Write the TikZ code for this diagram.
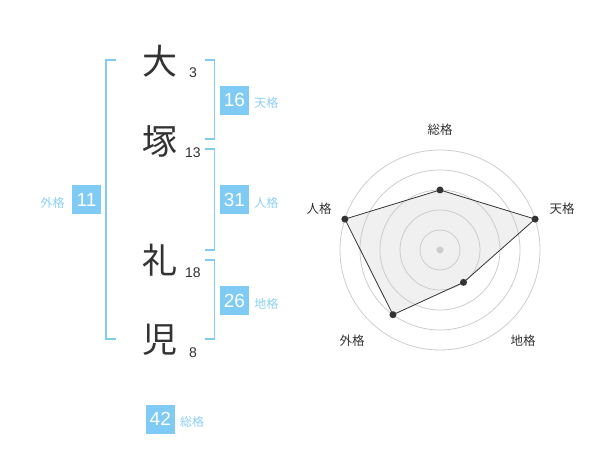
\documentclass[tikz,border=0pt]{standalone}
\usepackage{fontspec}
\setmainfont{Liberation Sans}
\newfontfamily\jp{Noto Sans CJK JP}
\usepackage{tikz}
\usepackage{xcolor}
\usetikzlibrary{calc,positioning}
\definecolor{kakublue}{HTML}{80CBF6}
\definecolor{nameblue}{HTML}{8CD0F4}
\definecolor{moji}{HTML}{333333}
\definecolor{ring}{HTML}{CCCCCC}

\begin{document}
\begin{tikzpicture}[x=1pt,y=-1pt]
        \tikzstyle{kanji}=[font=\jp\fontsize{35}{35}\selectfont, text=moji, inner sep=0pt]
        \tikzstyle{strokes}=[font=\fontsize{14}{14}\selectfont, text=moji, inner sep=0pt]
        \tikzstyle{kaku}=[fill=kakublue, text=white, font=\fontsize{19}{19}\selectfont, minimum size=29pt, inner sep=0pt]
        \tikzstyle{kakuname}=[font=\jp\fontsize{12}{12}\selectfont, text=nameblue, inner sep=0pt]
        \tikzstyle{bracket}=[draw=kakublue, line width=1.6pt]
        \tikzstyle{axisname}=[font=\jp\fontsize{12.5}{12.5}\selectfont, text=moji, inner sep=0pt]
        \tikzstyle{dot}=[circle, fill=moji, minimum size=7pt, inner sep=0pt]
        \useasboundingbox (0,0) rectangle (600,470);

        % name
        \node[kanji] (k1) at (160,61) {大};
        \node[kanji] (k2) at (160,141) {塚};
        \node[kanji] (k3) at (160,260) {礼};
        \node[kanji] (k4) at (160,340) {児};
        \node[strokes] (s1) at (193,73) {3};
        \node[strokes] (s2) at (193,153) {13};
        \node[strokes] (s3) at (193,273) {18};
        \node[strokes] (s4) at (193,353) {8};

        \draw[bracket] (115.7,60) -- (105.7,60) -- (105.7,339.3) -- (115.7,339.3);
        \draw[bracket] (205,60) -- (214.3,60) -- (214.3,139.3) -- (205,139.3);
        \draw[bracket] (205,149.3) -- (214.3,149.3) -- (214.3,250) -- (205,250);
        \draw[bracket] (205,260) -- (214.3,260) -- (214.3,339.3) -- (205,339.3);

        \node[kaku] (ten) at (234.5,100.3) {16};
        \node[kaku] (jin) at (234.5,200) {31};
        \node[kaku] (chi) at (234.5,300.7) {26};
        \node[kaku] (gai) at (86.5,200) {11};
        \node[kaku] (sou) at (160.3,419.3) {42};
        \node[kakuname, right=5pt of ten, yshift=-3pt] (tenname) {天格};
        \node[kakuname, right=5pt of jin, yshift=-3pt] (jinname) {人格};
        \node[kakuname, right=5pt of chi, yshift=-3pt] (chiname) {地格};
        \node[kakuname, left=7pt of gai, yshift=-3pt] (gainame) {外格};
        \node[kakuname, right=5pt of sou, yshift=-3pt] (souname) {総格};

        % radar
        \coordinate (c) at (440,250);
        \coordinate (psou) at ($(c)+(-90:60)$);
        \coordinate (pten) at ($(c)+(-18:100)$);
        \coordinate (pchi) at ($(c)+(54:40)$);
        \coordinate (pgai) at ($(c)+(126:80)$);
        \coordinate (pjin) at ($(c)+(198:100)$);
        \fill[black!6] (psou) -- (pten) -- (pchi) -- (pgai) -- (pjin) -- cycle;
        \foreach \r in {20,40,60,80,100}
            \draw[ring, line width=0.8pt] (c) circle (\r);
        \draw[moji, line width=0.8pt] (psou) -- (pten) -- (pchi) -- (pgai) -- (pjin) -- cycle;
        \node[circle, fill=ring, minimum size=7pt, inner sep=0pt] (mid) at (c) {};
        \node[dot] (dsou) at (psou) {};
        \node[dot] (dten) at (pten) {};
        \node[dot] (dchi) at (pchi) {};
        \node[dot] (dgai) at (pgai) {};
        \node[dot] (djin) at (pjin) {};

        \node[axisname] (asou) at (440,130) {総格};
        \node[axisname] (aten) at (562,209) {天格};
        \node[axisname] (achi) at (523,341) {地格};
        \node[axisname] (agai) at (352,341) {外格};
        \node[axisname] (ajin) at (319,209) {人格};
\end{tikzpicture}
\end{document}
